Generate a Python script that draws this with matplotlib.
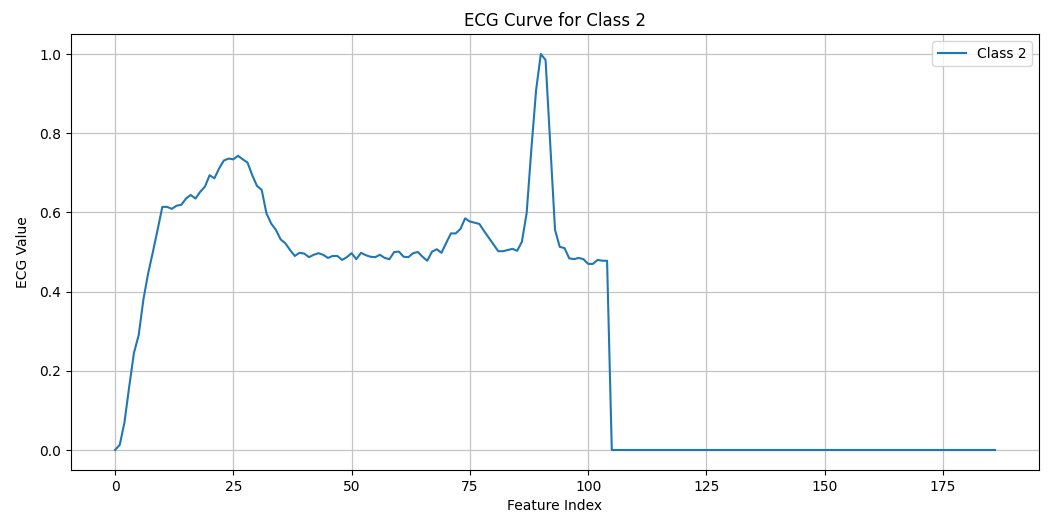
import numpy as np
import matplotlib
matplotlib.use('Agg')
import matplotlib.pyplot as plt

# ECG sample for class 2 (187 features, zero-padded after index 104)
signal_head = [
    0.0, 0.013, 0.07, 0.16, 0.245, 0.29, 0.38, 0.446, 0.50, 0.556,
    0.614, 0.614, 0.609, 0.617, 0.619, 0.635, 0.644, 0.635, 0.652, 0.665,
    0.694, 0.686, 0.711, 0.731, 0.736, 0.734, 0.743, 0.734, 0.726, 0.694,
    0.667, 0.657, 0.598, 0.572, 0.556, 0.532, 0.522, 0.505, 0.49, 0.498,
    0.496, 0.487, 0.493, 0.497, 0.493, 0.485, 0.49, 0.49, 0.48, 0.487,
    0.497, 0.482, 0.498, 0.492, 0.488, 0.487, 0.493, 0.485, 0.482, 0.50,
    0.501, 0.488, 0.487, 0.497, 0.50, 0.488, 0.478, 0.501, 0.507, 0.498,
    0.523, 0.547, 0.547, 0.558, 0.585, 0.577, 0.574, 0.571, 0.553, 0.536,
    0.519, 0.502, 0.502, 0.505, 0.508, 0.503, 0.526, 0.598, 0.76, 0.909,
    1.0, 0.985, 0.77, 0.556, 0.513, 0.51, 0.484, 0.482, 0.485, 0.482,
    0.47, 0.47, 0.48, 0.478, 0.478,
]
n_features = 187
padding = [0.0] * (n_features - len(signal_head))
ecg_values = signal_head + padding
feature_index = list(range(n_features))

fig = plt.figure(figsize=(10.49, 5.13), dpi=100)
ax = fig.add_axes([0.0677, 0.0842, 0.9228, 0.8491])
ax.plot(feature_index, ecg_values, label='Class 2')
ax.set_title('ECG Curve for Class 2')
ax.set_xlabel('Feature Index')
ax.set_ylabel('ECG Value', labelpad=7)
ax.legend()
ax.grid(True, color='#c4c4c4', linewidth=0.9)

fig.savefig('out.png', dpi=100)
